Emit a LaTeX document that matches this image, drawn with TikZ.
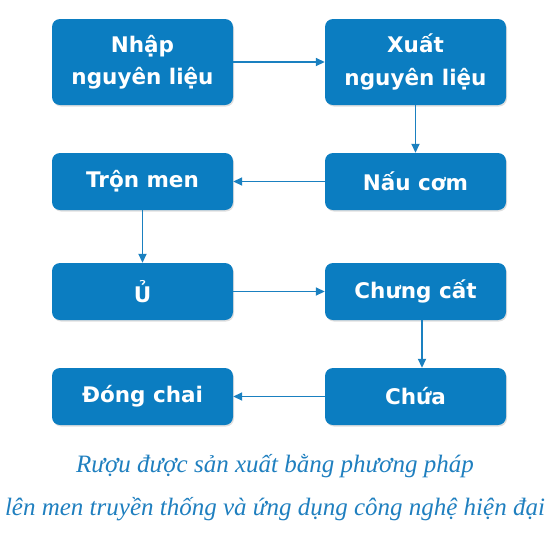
\documentclass[tikz,border=0pt]{standalone}
\usepackage{fontspec}
\newfontfamily\boxfont{DejaVu Sans}
\newfontfamily\capfont{Liberation Serif}
\usetikzlibrary{arrows.meta,shadows}
\definecolor{boxblue}{HTML}{0B7DC1}
\definecolor{lineblue}{HTML}{1A80C0}
\definecolor{capblue}{HTML}{1F7FBF}
\begin{document}
\begin{tikzpicture}[x=1pt,y=-1pt,
  stepbox/.style={rectangle, rounded corners=8pt, fill=boxblue, text=white,
    minimum width=181pt, minimum height=57pt, align=center, inner sep=0pt,
    font=\boxfont\bfseries\fontsize{21.5}{32.5}\selectfont,
    drop shadow={opacity=0.25, shadow xshift=1pt, shadow yshift=-1.5pt}},
  tallbox/.style={stepbox, minimum height=86pt},
  link/.style={draw=lineblue, line width=1.7pt, -{Triangle[width=8pt,length=9pt]}},
  captext/.style={text=capblue, font=\capfont\itshape\fontsize{25}{30}\selectfont}]
\useasboundingbox (0,0) rectangle (550,550);
\node[tallbox] (n1) at (142.5,62) {Nhập\\nguyên liệu};
\node[tallbox] (n2) at (415.5,62) {Xuất\\nguyên liệu};
\node[stepbox] (n3) at (415.5,181.5) {Nấu cơm};
\node[stepbox] (n4) at (142.5,181.5) {Trộn men};
\node[stepbox] (n5) at (142.5,291.5) {Ủ};
\node[stepbox] (n6) at (415.5,291.5) {Chưng cất};
\node[stepbox] (n7) at (415.5,396.5) {Chứa};
\node[stepbox] (n8) at (142.5,396.5) {Đóng chai};
\draw[link] (n1) -- (n2);
\draw[link] (n2) -- (n3);
\draw[link] (n3) -- (n4);
\draw[link] (n4) -- (n5);
\draw[link] (n5) -- (n6);
\draw[link] ([xshift=6.5pt]n6.south) -- ([xshift=6.5pt]n7.north);
\draw[link] (n7) -- (n8);
\node[captext] (c1) at (275,466) {Rượu được sản xuất bằng phương pháp};
\node[captext] (c2) at (275,509) {lên men truyền thống và ứng dụng công nghệ hiện đại};
\end{tikzpicture}
\end{document}
